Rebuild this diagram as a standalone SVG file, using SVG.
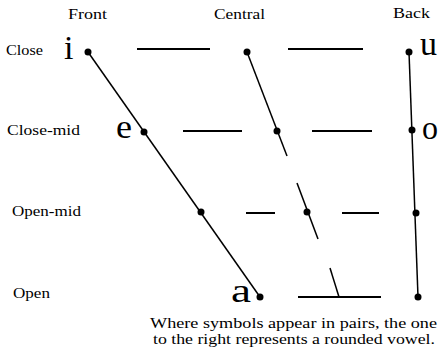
<svg xmlns="http://www.w3.org/2000/svg" width="438" height="350" viewBox="0 0 438 350">
<style>
.lab{font-family:"Liberation Serif","Times New Roman",serif;font-size:14px;fill:#000}
.sym{font-family:"Liberation Serif","Times New Roman",serif;font-size:34px;fill:#000}
.ln{stroke:#000;stroke-width:1.5;fill:none}
.hz{stroke:#000;stroke-width:2;fill:none}
.dot{fill:#000}
</style>
<rect width="438" height="350" fill="#fff"/>
<g id="headers">
<text class="lab" x="68" y="19" textLength="39" lengthAdjust="spacingAndGlyphs">Front</text>
<text class="lab" x="214" y="19" textLength="51" lengthAdjust="spacingAndGlyphs">Central</text>
<text class="lab" x="393" y="18" textLength="37" lengthAdjust="spacingAndGlyphs">Back</text>
</g>
<g id="row-labels">
<text class="lab" x="6" y="55" textLength="37" lengthAdjust="spacingAndGlyphs">Close</text>
<text class="lab" x="7" y="135" textLength="73" lengthAdjust="spacingAndGlyphs">Close-mid</text>
<text class="lab" x="12" y="216" textLength="69" lengthAdjust="spacingAndGlyphs">Open-mid</text>
<text class="lab" x="13" y="298" textLength="37" lengthAdjust="spacingAndGlyphs">Open</text>
</g>
<g id="connectors">
<line class="ln" x1="88" y1="52" x2="260" y2="297"/>
<line class="ln" x1="247" y1="52" x2="287" y2="156"/>
<line class="ln" x1="297" y1="183" x2="318" y2="239"/>
<line class="ln" x1="330" y1="268" x2="339" y2="297"/>
<line class="ln" x1="409" y1="52" x2="418" y2="297"/>
<line class="hz" x1="137" y1="49" x2="210" y2="49"/>
<line class="hz" x1="288" y1="49" x2="363" y2="49"/>
<line class="hz" x1="183" y1="131" x2="242" y2="131"/>
<line class="hz" x1="312" y1="131" x2="372" y2="131"/>
<line class="hz" x1="246" y1="213" x2="275" y2="213"/>
<line class="hz" x1="342" y1="213" x2="379" y2="213"/>
<line class="hz" x1="298" y1="297" x2="381" y2="297"/>
</g>
<g id="node-i"><circle class="dot" cx="88" cy="52" r="3.5"/><text class="sym" x="64" y="59">i</text></g>
<g id="node-central-close"><circle class="dot" cx="247" cy="52" r="3.5"/></g>
<g id="node-u"><circle class="dot" cx="409" cy="52" r="3.5"/><text class="sym" x="420" y="55" textLength="17" lengthAdjust="spacingAndGlyphs">u</text></g>
<g id="node-e"><circle class="dot" cx="144" cy="132" r="3.5"/><text class="sym" x="116" y="138" textLength="16" lengthAdjust="spacingAndGlyphs">e</text></g>
<g id="node-central-closemid"><circle class="dot" cx="277" cy="131" r="3.5"/></g>
<g id="node-o"><circle class="dot" cx="412" cy="130" r="3.5"/><text class="sym" x="422" y="139" textLength="16" lengthAdjust="spacingAndGlyphs">o</text></g>
<g id="node-front-openmid"><circle class="dot" cx="201" cy="212" r="3.5"/></g>
<g id="node-central-openmid"><circle class="dot" cx="307" cy="212" r="3.5"/></g>
<g id="node-back-openmid"><circle class="dot" cx="416" cy="213" r="3.5"/></g>
<g id="node-a"><circle class="dot" cx="260" cy="297" r="3.5"/><text class="sym" x="231" y="302" textLength="20" lengthAdjust="spacingAndGlyphs">a</text></g>
<g id="node-back-open"><circle class="dot" cx="418" cy="297" r="3.5"/></g>
<g id="note">
<text class="lab" x="150" y="328" textLength="287" lengthAdjust="spacingAndGlyphs">Where symbols appear in pairs, the one</text>
<text class="lab" x="153" y="344" textLength="282" lengthAdjust="spacingAndGlyphs">to the right represents a rounded vowel.</text>
</g>
</svg>
